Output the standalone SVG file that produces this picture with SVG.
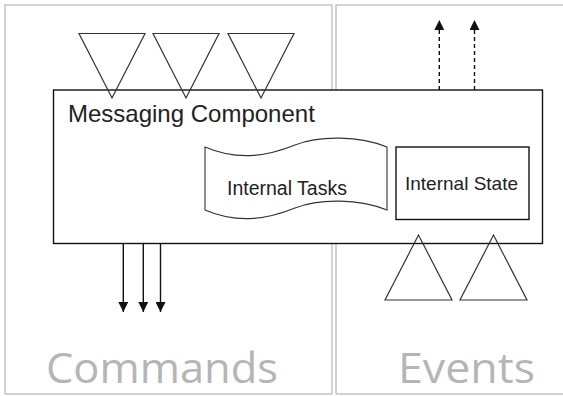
<svg xmlns="http://www.w3.org/2000/svg" width="563" height="396" viewBox="0 0 563 396">
<defs>
<style>
.panel{fill:none;stroke:#c4c4c4;stroke-width:1.5}
.box{fill:#fff;stroke:#111;stroke-width:1.4}
.tri{fill:none;stroke:#333;stroke-width:1.2}
.tape{fill:#fff;stroke:#333;stroke-width:1.1}
.lbl{font-family:"Liberation Sans",Arial,sans-serif;fill:#222}
.big{font-family:"Open Sans","DejaVu Sans",sans-serif;font-size:42px;fill:#b5b5b5}
.arr{stroke:#111;stroke-width:1.4;fill:none}
.dash{stroke-dasharray:4 3}
</style>
<marker id="ah" viewBox="0 0 10 10" refX="10" refY="5" markerWidth="11" markerHeight="10" markerUnits="userSpaceOnUse" orient="auto">
<path d="M0,0 L10,5 L0,10 Z" fill="#111"/>
</marker>
</defs>
<rect width="563" height="396" fill="#fff"/>
<g id="panels">
<path class="panel" d="M5,394 V5 H332 V394 M5,394 H332"/>
<path class="panel" d="M336,394 V5 H563 M336,394 H563"/>
<text class="big" x="46" y="383" textLength="232" lengthAdjust="spacingAndGlyphs">Commands</text>
<text class="big" x="398" y="383" textLength="137" lengthAdjust="spacingAndGlyphs">Events</text>
</g>
<g id="messaging-component">
<rect class="box" x="53.5" y="90" width="489" height="153.5"/>
<text class="lbl" x="68" y="122" font-size="24">Messaging Component</text>
</g>
<g id="internal-tasks">
<path class="tape" d="M205,147 C240,162 270,155 295,145 C320,135 360,136 387,147 V210 C360,199 320,198 295,208 C270,218 240,225 205,210 Z"/>
<text class="lbl" x="227" y="195" font-size="19.5">Internal Tasks</text>
</g>
<g id="internal-state">
<rect class="box" x="396" y="147" width="133" height="72.5"/>
<text class="lbl" x="405" y="190" font-size="19">Internal State</text>
</g>
<g id="command-inputs">
<path class="tri" d="M79,33.5 H145 L112,98 Z"/>
<path class="tri" d="M153,33.5 H219 L186,98 Z"/>
<path class="tri" d="M228,33.5 H294 L261,98 Z"/>
</g>
<g id="event-inputs">
<path class="tri" d="M385,300 H452 L418.5,235 Z"/>
<path class="tri" d="M460,300 H527 L493.5,235 Z"/>
</g>
<g id="connectors">
<line class="arr" x1="123.3" y1="243.5" x2="123.3" y2="312" marker-end="url(#ah)"/>
<line class="arr" x1="143.3" y1="243.5" x2="143.3" y2="312" marker-end="url(#ah)"/>
<line class="arr" x1="160.5" y1="243.5" x2="160.5" y2="312" marker-end="url(#ah)"/>
<line class="arr dash" x1="439.3" y1="90" x2="439.3" y2="20" marker-end="url(#ah)"/>
<line class="arr dash" x1="474.5" y1="90" x2="474.5" y2="20" marker-end="url(#ah)"/>
</g>
</svg>
